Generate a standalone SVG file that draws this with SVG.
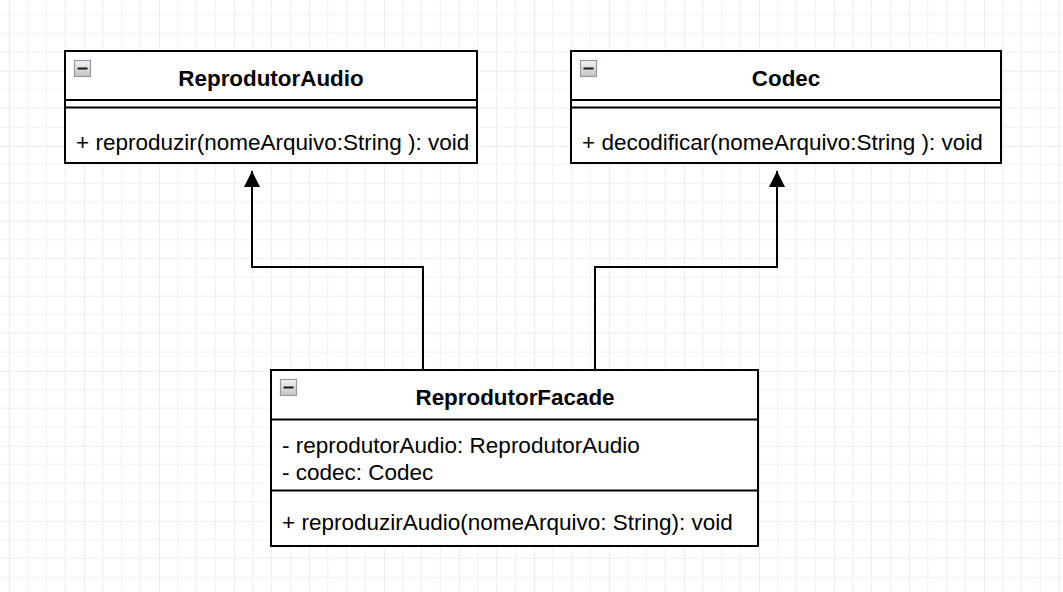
<svg xmlns="http://www.w3.org/2000/svg" width="1063" height="592" viewBox="0 0 1063 592">
  <style>
    .box { fill: #ffffff; stroke: #000000; stroke-width: 2; }
    .sep { stroke: #000000; stroke-width: 2; fill: none; }
    .title { font-family: "Liberation Sans", Arial, sans-serif; font-size: 22.4px; font-weight: bold; fill: #000000; text-anchor: middle; }
    .txt { font-family: "Liberation Sans", Arial, sans-serif; font-size: 22.5px; fill: #000000; }
    .edge { stroke: #000000; stroke-width: 2; fill: none; }
    .icon { fill: url(#iconGrad); stroke: #8f9aab; stroke-width: 1.2; }
    .iconbar { fill: #1a1a1a; }
  </style>
  <defs>
    <pattern id="grid" patternUnits="userSpaceOnUse" x="9" y="-4.25" width="75" height="75">
      <path d="M18.75 0V75M37.5 0V75M56.25 0V75M0 18.75H75M0 37.5H75M0 56.25H75" stroke="#f0f0f0" stroke-width="1" fill="none"/>
      <path d="M0 0V75M0 0H75" stroke="#dedede" stroke-width="1" fill="none"/>
    </pattern>
    <linearGradient id="iconGrad" x1="0" y1="0" x2="0" y2="1">
      <stop offset="0" stop-color="#f4f4f4"/>
      <stop offset="1" stop-color="#c4c4c4"/>
    </linearGradient>
    <marker id="tri" markerUnits="userSpaceOnUse" markerWidth="18" markerHeight="18" viewBox="0 0 18 18" refX="17" refY="9" orient="auto">
      <path d="M1 1L17 9L1 17Z" fill="#000000"/>
    </marker>
  </defs>
  <rect x="0" y="0" width="1063" height="592" fill="#ffffff"/>
  <rect x="0" y="0" width="1063" height="592" fill="url(#grid)"/>

  <g id="connectors">
    <path class="edge" d="M423 369V267H252V171" marker-end="url(#tri)"/>
    <path class="edge" d="M595 369V267H777V171" marker-end="url(#tri)"/>
  </g>

  <g id="ReprodutorAudio">
    <rect class="box" x="65" y="51" width="412" height="112"/>
    <path class="sep" d="M65 100H477M65 107.5H477"/>
    <rect class="icon" x="74.5" y="60.5" width="16" height="16"/>
    <rect class="iconbar" x="77.5" y="67.5" width="10" height="2"/>
    <text class="title" x="271" y="86">ReprodutorAudio</text>
    <text class="txt" x="76" y="150">+ reproduzir(nomeArquivo:String ): void</text>
  </g>

  <g id="Codec">
    <rect class="box" x="571" y="51" width="430" height="112"/>
    <path class="sep" d="M571 100H1001M571 107.5H1001"/>
    <rect class="icon" x="580.5" y="60.5" width="16" height="16"/>
    <rect class="iconbar" x="583.5" y="67.5" width="10" height="2"/>
    <text class="title" x="786" y="86">Codec</text>
    <text class="txt" x="582" y="150">+ decodificar(nomeArquivo:String ): void</text>
  </g>

  <g id="ReprodutorFacade">
    <rect class="box" x="271" y="370" width="487" height="176"/>
    <path class="sep" d="M271 419.5H758M271 490.5H758"/>
    <rect class="icon" x="280.5" y="379.5" width="16" height="16"/>
    <rect class="iconbar" x="283.5" y="386.5" width="10" height="2"/>
    <text class="title" x="515" y="405">ReprodutorFacade</text>
    <text class="txt" x="282" y="453">- reprodutorAudio: ReprodutorAudio</text>
    <text class="txt" x="282" y="479.5">- codec: Codec</text>
    <text class="txt" x="282" y="530">+ reproduzirAudio(nomeArquivo: String): void</text>
  </g>
</svg>
